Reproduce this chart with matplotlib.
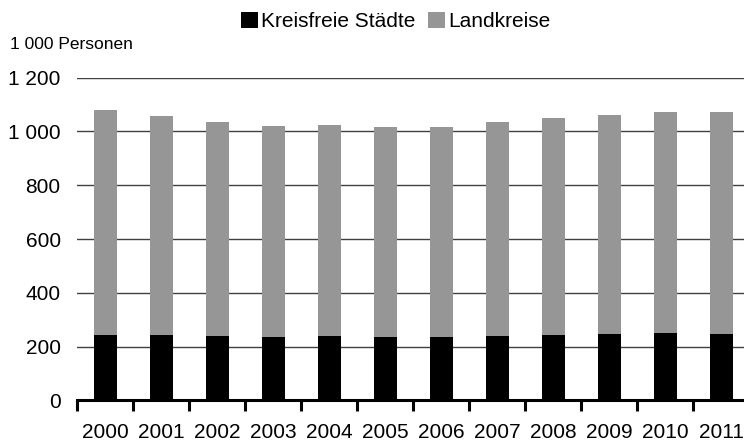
import matplotlib
matplotlib.use("Agg")
import matplotlib.pyplot as plt
import numpy as np

years = ["2000", "2001", "2002", "2003", "2004", "2005", "2006", "2007", "2008", "2009", "2010", "2011"]
kreisfreie = [243, 243, 238, 236, 239, 236, 236, 239, 242, 246, 249, 246]
totals = [1079, 1057, 1035, 1020, 1023, 1016, 1016, 1035, 1049, 1061, 1072, 1072]
landkreise = [t - k for t, k in zip(totals, kreisfreie)]
yticks = [0, 200, 400, 600, 800, 1000, 1200]
ytick_labels = ["0", "200", "400", "600", "800", "1 000", "1 200"]

plt.rcParams['font.family'] = ['Liberation Sans', 'DejaVu Sans']

fig = plt.figure(figsize=(7.44, 4.41), dpi=100)
ax = fig.add_axes([0.104, 0.092, 0.9034, 0.732])

x = np.arange(len(years))
ax.bar(x, kreisfreie, width=0.42, color="#000000", label="Kreisfreie Städte", zorder=3)
ax.bar(x, landkreise, bottom=kreisfreie, width=0.42, color="#969696", label="Landkreise", zorder=3)

ax.set_xlim(-0.5, len(years) - 0.5)
ax.set_ylim(0, 1200)
ax.set_yticks(yticks)
ax.set_yticklabels(ytick_labels, fontsize=15)
ax.yaxis.grid(True, color="#404040", linewidth=1.0, zorder=0)
ax.set_axisbelow(True)
ax.tick_params(axis='y', length=0, pad=12)

ax.set_xticks(x)
ax.set_xticklabels(years, fontsize=15)
ax.set_xticks(np.arange(len(years) + 1) - 0.5, minor=True)
ax.tick_params(axis='x', which='major', length=0, pad=16)
ax.tick_params(axis='x', which='minor', length=8, width=2.2, direction='out', color='black')

for s in ['left', 'right', 'top']:
    ax.spines[s].set_visible(False)
ax.spines['bottom'].set_linewidth(2.2)
ax.spines['bottom'].set_color('black')
ax.spines['bottom'].set_zorder(4)

fig.text(0.013, 0.9, "1 000 Personen", fontsize=12.5, ha='left', va='center')

leg = fig.legend(loc='center', bbox_to_anchor=(0.532, 0.952), ncol=2, frameon=False,
                 fontsize=15, handlelength=0.8, handleheight=0.8, handletextpad=0.15,
                 columnspacing=0.6)

fig.savefig("out.png", dpi=100)
